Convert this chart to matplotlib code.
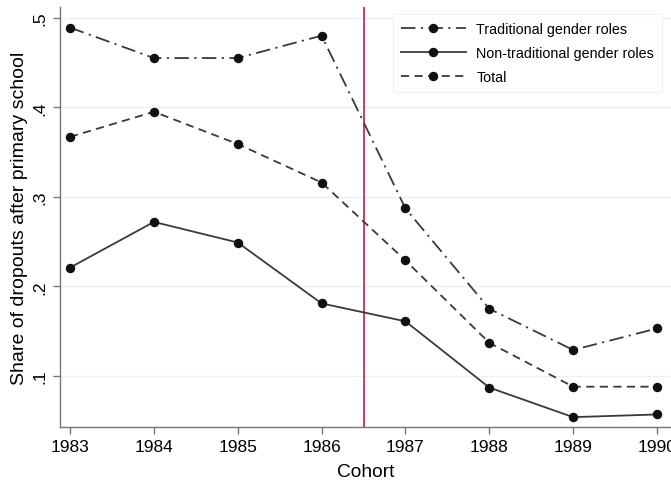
import matplotlib
matplotlib.use("Agg")
import matplotlib.pyplot as plt

plt.rcParams['font.family'] = ['Liberation Sans', 'DejaVu Sans']

cohorts = [1983, 1984, 1985, 1986, 1987, 1988, 1989, 1990]
traditional = [0.489, 0.455, 0.455, 0.480, 0.287, 0.175, 0.129, 0.153]
non_traditional = [0.221, 0.272, 0.249, 0.181, 0.161, 0.087, 0.054, 0.057]
total = [0.367, 0.395, 0.359, 0.316, 0.229, 0.137, 0.088, 0.088]
yticks = [0.1, 0.2, 0.3, 0.4, 0.5]
ytick_labels = ['.1', '.2', '.3', '.4', '.5']
cutoff = 1986.5

fig = plt.figure(figsize=(6.71, 4.81), dpi=100)
ax = fig.add_axes([60/671, 53/481, 611/671, 420/481])

lc = '#3a3a3a'
mk = dict(marker='o', ms=5.8, mfc='#111111', mec='#111111')
ax.plot(cohorts, traditional, color=lc, lw=1.3, dashes=(8, 3, 1.2, 3),
        label='Traditional gender roles', **mk)
ax.plot(cohorts, non_traditional, color=lc, lw=1.3, linestyle='-',
        label='Non-traditional gender roles', **mk)
ax.plot(cohorts, total, color=lc, lw=1.3, dashes=(4.5, 3),
        label='Total', **mk)
ax.axvline(cutoff, color='#d8356a', lw=1.4, zorder=1)

ax.set_xlim(1982.88, 1990.167)
ax.set_ylim(0.043, 0.512)
ax.set_xticks(cohorts)
ax.set_xticklabels([str(c) for c in cohorts], fontsize=12.5)
ax.set_yticks(yticks)
ax.set_yticklabels(ytick_labels, fontsize=12.5, rotation=90, va='center')
ax.grid(axis='y', color='#efefef', lw=0.9)
ax.set_axisbelow(True)
for s in ['top', 'right']:
    ax.spines[s].set_visible(False)
for s in ['left', 'bottom']:
    ax.spines[s].set_color('#777777')
    ax.spines[s].set_linewidth(1.0)
ax.tick_params(direction='out', length=5, color='#777777', width=1.0, pad=4)
ax.set_xlabel('Cohort', fontsize=13.8, labelpad=6)
ax.set_ylabel('Share of dropouts after primary school', fontsize=14, labelpad=3)

leg = ax.legend(loc='upper right', bbox_to_anchor=(0.997, 1.0), fontsize=10.3,
                frameon=True, fancybox=False, edgecolor='#eeeeee', handlelength=4.5,
                borderpad=0.55, labelspacing=0.7, handletextpad=0.75)
leg.get_frame().set_linewidth(0.8)

fig.savefig('out.png', dpi=100)
